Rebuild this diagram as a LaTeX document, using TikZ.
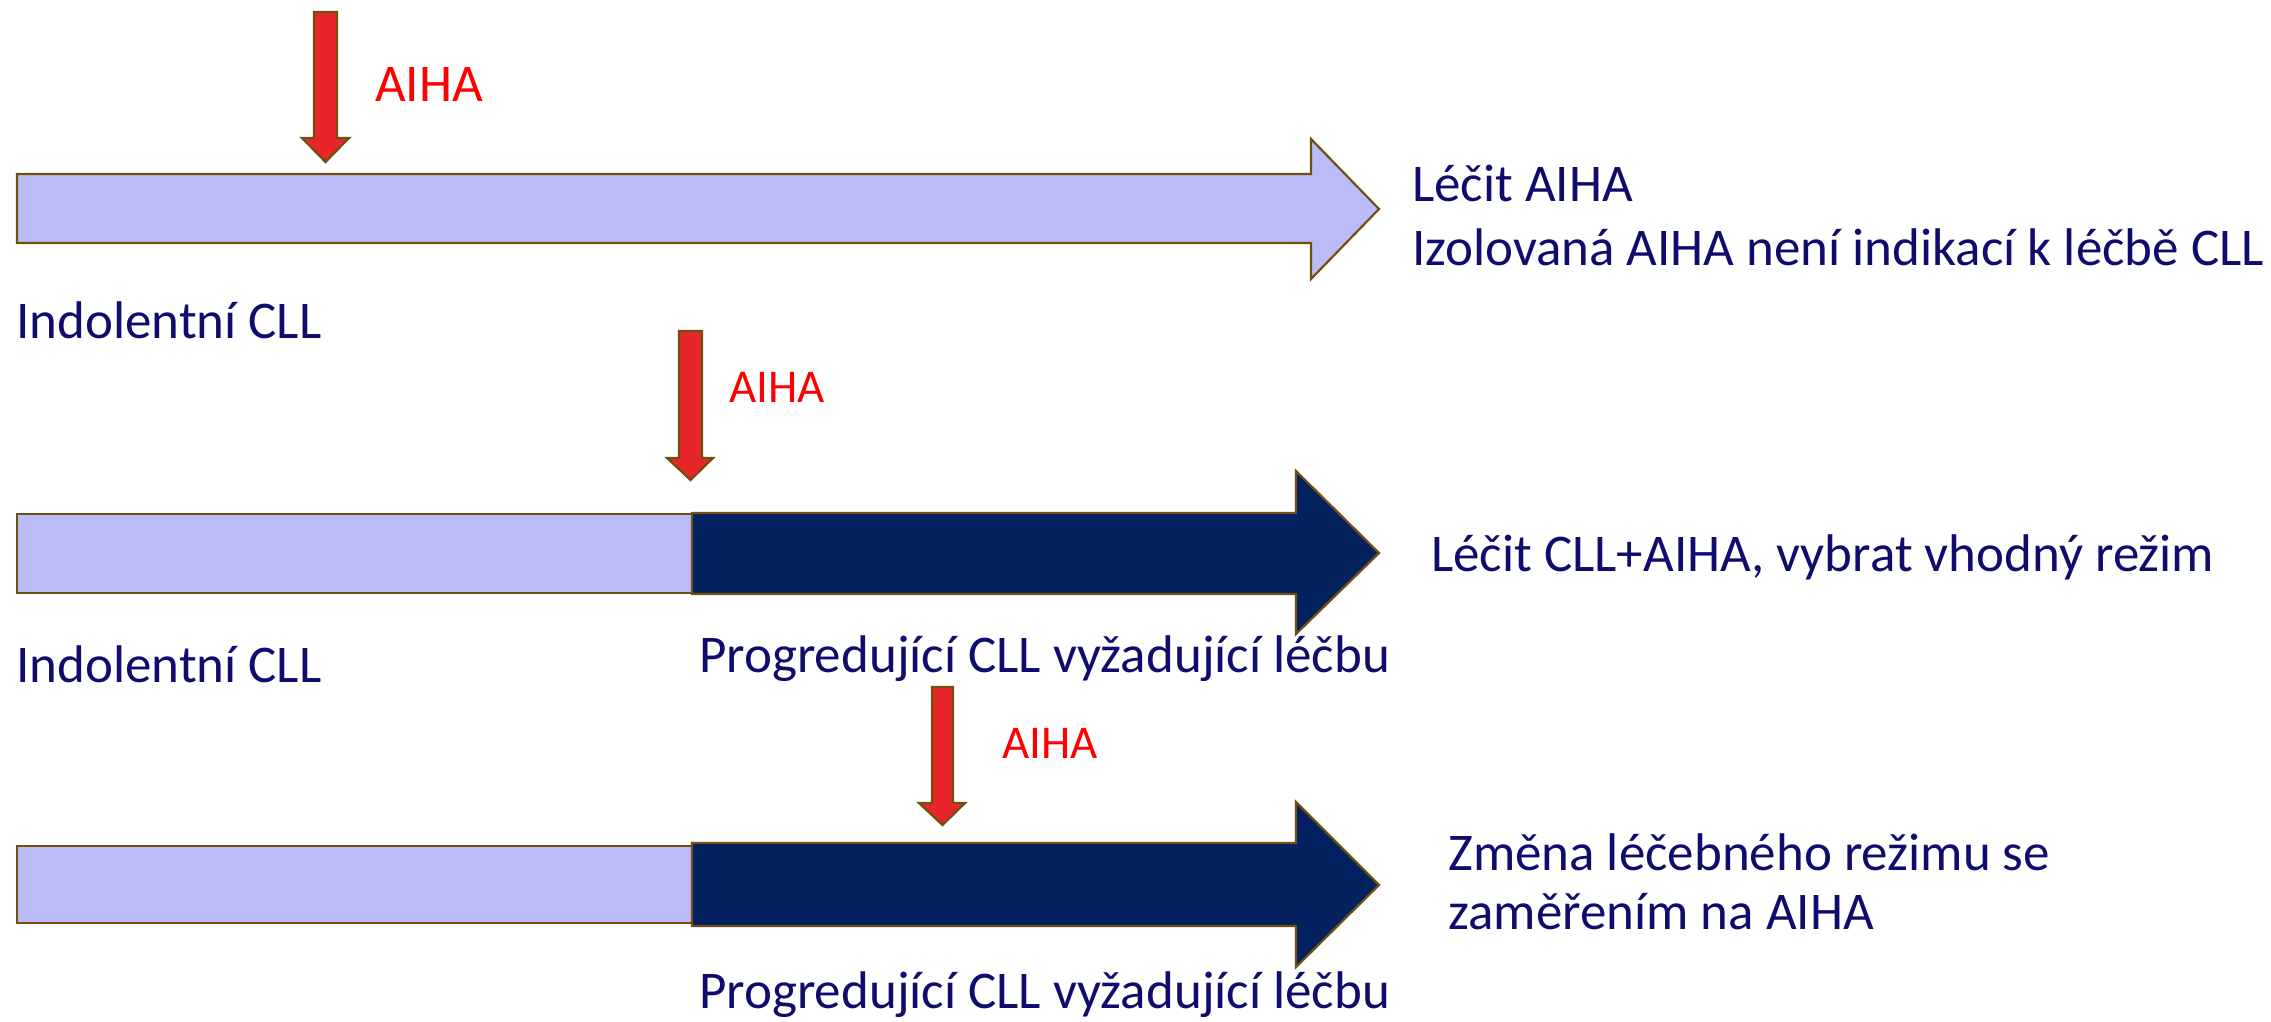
\documentclass[tikz,border=0pt]{standalone}
\usepackage{fontspec}
\setmainfont{Carlito}
\definecolor{outl}{RGB}{112,80,16}
\definecolor{lightfill}{RGB}{187,187,247}
\definecolor{darkfill}{RGB}{2,33,94}
\definecolor{redfill}{RGB}{232,38,42}
\definecolor{redtext}{RGB}{255,0,0}
\definecolor{bluetext}{RGB}{16,12,110}
\tikzset{
  shapebase/.style={draw=outl, line width=2.2pt, line join=miter},
  lightbar/.style={shapebase, fill=lightfill},
  darkbar/.style={shapebase, fill=darkfill},
  redarrow/.style={shapebase, fill=redfill},
  bluelabel/.style={anchor=base west, inner sep=0pt, text=bluetext, font=\fontsize{53}{64}\selectfont},
  redlabel/.style={anchor=base west, inner sep=0pt, text=redtext, font=\fontsize{53}{64}\selectfont},
  redlabelsmall/.style={anchor=base west, inner sep=0pt, text=redtext, font=\fontsize{47}{56}\selectfont}
}
\begin{document}
\begin{tikzpicture}[x=1pt,y=-1pt]
\path[use as bounding box] (0,0) rectangle (2271,1021);

% Row 1
\draw[lightbar] (17,174) -- (1311,174) -- (1311,139) -- (1379,209) -- (1311,279) -- (1311,243) -- (17,243) -- cycle;
\draw[redarrow] (314,12) -- (337,12) -- (337,138) -- (349,138) -- (325.5,162) -- (302,138) -- (314,138) -- cycle;
\node[redlabel] (aiha1) at (375,101) {AIHA};
\node[bluelabel] (t1a) at (1412,201) {Léčit AIHA};
\node[bluelabel] (t1b) at (1412,265) {Izolovaná AIHA není indikací k léčbě CLL};
\node[bluelabel] (ind1) at (16,338) {Indolentní CLL};

% Row 2
\draw[lightbar] (17,514) rectangle (692,593);
\draw[darkbar] (692,513) -- (1296,513) -- (1296,471) -- (1379,553) -- (1296,634) -- (1296,594) -- (692,594) -- cycle;
\draw[redarrow] (679,331) -- (702,331) -- (702,458) -- (713,458) -- (690.5,480) -- (667,458) -- (679,458) -- cycle;
\node[redlabelsmall] (aiha2) at (729,402) {AIHA};
\node[bluelabel] (t2) at (1431,571) {Léčit CLL+AIHA, vybrat vhodný režim};
\node[bluelabel] (ind2) at (16,682) {Indolentní CLL};
\node[bluelabel] (prog2) at (699,672) {Progredující CLL vyžadující léčbu};

% Row 3
\draw[lightbar] (17,846) rectangle (692,923);
\draw[darkbar] (692,843) -- (1296,843) -- (1296,802) -- (1379,885) -- (1296,967) -- (1296,926) -- (692,926) -- cycle;
\draw[redarrow] (932,687) -- (953,687) -- (953,803) -- (965,803) -- (942.5,825) -- (919,803) -- (932,803) -- cycle;
\node[redlabelsmall] (aiha3) at (1002,758) {AIHA};
\node[bluelabel] (t3a) at (1448,870) {Změna léčebného režimu se};
\node[bluelabel] (t3b) at (1448,929) {zaměřením na AIHA};
\node[bluelabel] (prog3) at (699,1008) {Progredující CLL vyžadující léčbu};
\end{tikzpicture}
\end{document}
